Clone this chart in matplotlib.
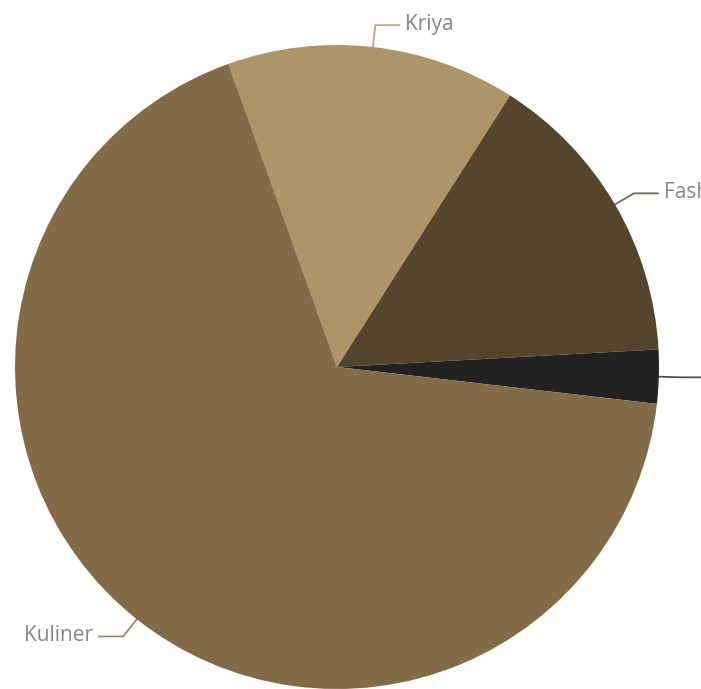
import numpy as np
import matplotlib.pyplot as plt

# slice data, clockwise from the top-left boundary
labels = ["Kriya", "Fashion", "Lainnya", "Kuliner"]
values = [14.5, 15.1, 2.7, 67.7]
colors = ["#ad9469", "#55452d", "#222222", "#846b48"]

W, H = 701, 689
cx, cy, R = 337, H - 367, 322

fig = plt.figure(figsize=(W / 100, H / 100), dpi=100)
ax = fig.add_axes([0, 0, 1, 1])

wedges, _ = ax.pie(values, colors=colors, startangle=109.7, counterclock=False,
                   center=(cx, cy), radius=R, frame=True,
                   wedgeprops=dict(linewidth=0))
ax.set_xlim(0, W); ax.set_ylim(0, H)
ax.set_aspect("equal"); ax.axis("off")

# leader lines + labels (echarts style)
L1, L2 = 22, 24
for w, lab, col in zip(wedges, labels, colors):
    mid = np.deg2rad((w.theta1 + w.theta2) / 2)
    x0, y0 = cx + R * np.cos(mid), cy + R * np.sin(mid)
    x1, y1 = cx + (R + L1) * np.cos(mid), cy + (R + L1) * np.sin(mid)
    sgn = 1 if np.cos(mid) >= 0 else -1
    x2 = x1 + sgn * L2
    ax.plot([x0, x1, x2], [y0, y1, y1], color=col, lw=1.3, alpha=0.8,
            solid_joinstyle="miter", clip_on=False)
    ax.text(x2 + sgn * 6, y1 + 1, lab, ha="left" if sgn > 0 else "right",
            va="center", fontsize=15, color="#858585", family="Open Sans")

fig.savefig("out.png", dpi=100)
